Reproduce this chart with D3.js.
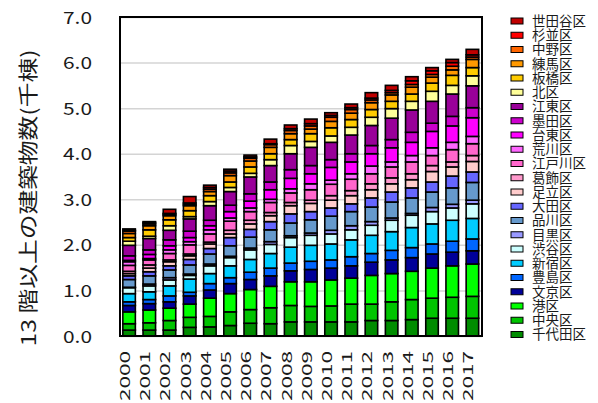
<!DOCTYPE html>
<html>
<head>
<meta charset="utf-8">
<script src="https://cdn.jsdelivr.net/npm/d3@7/dist/d3.min.js"></script>
<style>
  html, body { margin: 0; padding: 0; background: #fff; }
  svg { display: block; }
  text { font-family: "Noto Sans CJK JP", "Noto Sans", sans-serif; fill: #1a1a1a; }
</style>
</head>
<body>
<svg id="chart" width="598" height="403"></svg>
<script>
// 13階以上の建築物数（千棟）, 東京23区, 2000–2017
const years = ["2000","2001","2002","2003","2004","2005","2006","2007","2008",
               "2009","2010","2011","2012","2013","2014","2015","2016","2017"];

// stack order, bottom to top
const wards = ["千代田区","中央区","港区","文京区","豊島区","新宿区","渋谷区","目黒区",
               "品川区","大田区","足立区","葛飾区","江戸川区","荒川区","台東区","墨田区",
               "江東区","北区","板橋区","練馬区","中野区","杉並区","世田谷区"];

const wardColors = ["#008c00","#00c400","#00ff00","#000099","#0066ff","#00ccff","#ccffff","#9999ff",
                    "#6699cc","#6666ff","#ffcccc","#ff99cc","#ff66cc","#ff66ff","#ff00ff","#cc00cc",
                    "#990099","#ffff99","#ffcc00","#ff9900","#ff6600","#ff0000","#c00000"];

// buildings per ward (thousands), 2000..2017
const chiyoda  = [0.13,0.13,0.13,0.19,0.20,0.23,0.28,0.27,0.31,0.31,0.31,0.31,0.34,0.34,0.36,0.39,0.39,0.39];
const chuo     = [0.14,0.16,0.21,0.22,0.23,0.30,0.30,0.35,0.36,0.34,0.35,0.39,0.36,0.41,0.44,0.44,0.46,0.48];
const minato   = [0.26,0.28,0.27,0.29,0.40,0.40,0.44,0.47,0.52,0.54,0.57,0.57,0.63,0.62,0.62,0.66,0.69,0.71];
const bunkyo   = [0.14,0.14,0.14,0.18,0.18,0.22,0.22,0.23,0.24,0.27,0.26,0.27,0.29,0.30,0.30,0.31,0.30,0.29];
const toshima  = [0.08,0.09,0.13,0.08,0.14,0.13,0.16,0.17,0.17,0.18,0.18,0.20,0.19,0.21,0.22,0.22,0.24,0.26];
const shinjuku = [0.18,0.17,0.22,0.29,0.22,0.26,0.28,0.32,0.35,0.35,0.35,0.37,0.40,0.41,0.44,0.44,0.46,0.45];
const shibuya  = [0.13,0.13,0.13,0.08,0.17,0.18,0.21,0.20,0.21,0.22,0.22,0.22,0.22,0.25,0.27,0.27,0.27,0.32];
const meguro   = [0.01,0.04,0.05,0.03,0.04,0.03,0.04,0.06,0.04,0.05,0.08,0.09,0.08,0.05,0.04,0.09,0.08,0.08];
const shinagawa= [0.17,0.18,0.17,0.20,0.22,0.23,0.24,0.26,0.28,0.29,0.31,0.31,0.32,0.35,0.34,0.34,0.36,0.39];
const ota      = [0.08,0.09,0.09,0.12,0.12,0.18,0.17,0.18,0.20,0.18,0.18,0.17,0.20,0.22,0.22,0.22,0.26,0.23];
const adachi   = [0.05,0.08,0.09,0.08,0.10,0.08,0.12,0.13,0.18,0.18,0.17,0.18,0.18,0.18,0.18,0.23,0.20,0.23];
const katsushika=[0.05,0.07,0.04,0.04,0.04,0.08,0.08,0.07,0.07,0.07,0.10,0.11,0.13,0.13,0.13,0.13,0.11,0.13];
const edogawa  = [0.13,0.11,0.14,0.20,0.18,0.20,0.19,0.22,0.21,0.23,0.25,0.25,0.22,0.24,0.26,0.22,0.27,0.26];
const arakawa  = [0.08,0.03,0.08,0.07,0.09,0.07,0.08,0.07,0.09,0.13,0.09,0.12,0.17,0.11,0.14,0.17,0.16,0.16];
const taito    = [0.03,0.09,0.09,0.09,0.09,0.14,0.15,0.21,0.23,0.22,0.28,0.26,0.27,0.31,0.29,0.36,0.36,0.41];
const sumida   = [0.10,0.10,0.13,0.14,0.12,0.14,0.16,0.17,0.19,0.18,0.17,0.18,0.18,0.18,0.22,0.18,0.21,0.22];
const koto     = [0.23,0.25,0.21,0.27,0.32,0.30,0.37,0.36,0.35,0.40,0.38,0.41,0.44,0.47,0.49,0.48,0.49,0.48];
const kita     = [0.09,0.05,0.10,0.05,0.09,0.09,0.08,0.13,0.18,0.13,0.14,0.17,0.18,0.21,0.19,0.22,0.19,0.22];
const itabashi = [0.08,0.14,0.13,0.13,0.13,0.12,0.14,0.13,0.13,0.17,0.18,0.17,0.17,0.16,0.16,0.18,0.22,0.18];
const nerima   = [0.09,0.09,0.09,0.11,0.09,0.14,0.13,0.14,0.13,0.10,0.14,0.14,0.15,0.14,0.15,0.13,0.12,0.18];
const nakano   = [0.05,0.04,0.03,0.03,0.05,0.06,0.06,0.06,0.07,0.07,0.09,0.08,0.06,0.05,0.06,0.06,0.08,0.05];
const suginami = [0.02,0.03,0.02,0.03,0.04,0.04,0.03,0.02,0.04,0.05,0.04,0.04,0.04,0.05,0.08,0.08,0.08,0.05];
const setagaya = [0.03,0.02,0.09,0.14,0.05,0.04,0.04,0.10,0.08,0.10,0.06,0.08,0.12,0.11,0.09,0.07,0.07,0.12];

const wardSeries = [chiyoda, chuo, minato, bunkyo, toshima, shinjuku, shibuya, meguro,
                    shinagawa, ota, adachi, katsushika, edogawa, arakawa, taito, sumida,
                    koto, kita, itabashi, nerima, nakano, suginami, setagaya];

const yTicks = [0, 1, 2, 3, 4, 5, 6, 7];
const yTitle = "13 階以上の建築物数(千棟)";

// one row per year for d3.stack
const rows = years.map((y, i) => {
  const r = { year: y };
  wards.forEach((w, k) => { r[w] = wardSeries[k][i]; });
  return r;
});

const svg = d3.select("#chart");
const plot = { left: 120, right: 482, top: 17, bottom: 336 };

const x = d3.scaleBand().domain(years).range([119, 482.5]).paddingInner(0.38).paddingOuter(0.19);
const y = d3.scaleLinear().domain([0, 7]).range([plot.bottom, plot.top]);
const color = d3.scaleOrdinal().domain(wards).range(wardColors);

// grid lines
svg.append("g")
  .attr("transform", `translate(${plot.left},0)`)
  .call(d3.axisLeft(y).tickValues(yTicks).tickSize(-(plot.right - plot.left)).tickFormat(""))
  .call(g => g.select(".domain").remove())
  .call(g => g.selectAll("line").attr("stroke", "#d4d4d4").attr("stroke-width", 1.5));

// y tick labels
svg.append("g")
  .attr("transform", `translate(${plot.left},0)`)
  .call(d3.axisLeft(y).tickValues(yTicks).tickSize(0).tickPadding(28).tickFormat(d3.format(".1f")))
  .call(g => g.select(".domain").remove())
  .call(g => g.selectAll("text")
    .attr("font-size", 17)
    .attr("textLength", 29)
    .attr("lengthAdjust", "spacingAndGlyphs")
    .attr("dy", "0.36em")
    .style("font-family", "'Noto Sans CJK JP', sans-serif")
    .attr("fill", "#1a1a1a"));

// stacked bars
const stacked = d3.stack().keys(wards)(rows);
svg.append("g")
  .selectAll("g")
  .data(stacked)
  .join("g")
  .attr("fill", d => color(d.key))
  .selectAll("rect")
  .data(d => d)
  .join("rect")
  .attr("x", d => x(d.data.year))
  .attr("width", x.bandwidth())
  .attr("y", d => y(d[1]))
  .attr("height", d => y(d[0]) - y(d[1]))
  .attr("stroke", "#000")
  .attr("stroke-width", 1.6);

// plot frame
svg.append("rect")
  .attr("x", plot.left).attr("y", plot.top)
  .attr("width", plot.right - plot.left).attr("height", plot.bottom - plot.top)
  .attr("fill", "none").attr("stroke", "#000").attr("stroke-width", 2);

// x labels (rotated years)
svg.append("g")
  .selectAll("text")
  .data(years)
  .join("text")
  .attr("transform", d => `translate(${x(d) + x.bandwidth() / 2 + 1},351) rotate(-90)`)
  .attr("text-anchor", "end")
  .attr("font-size", 14)
  .attr("textLength", 50)
  .attr("lengthAdjust", "spacingAndGlyphs")
  .text(d => d);

// y axis title
svg.append("text")
  .attr("transform", "translate(36,198) rotate(-90)")
  .attr("text-anchor", "middle")
  .attr("font-size", 20)
  .attr("textLength", 297)
  .attr("lengthAdjust", "spacingAndGlyphs")
  .text(yTitle);

// legend, top entry = top of stack
const legendKeys = wards.slice().reverse();
const legend = svg.append("g")
  .selectAll("g")
  .data(legendKeys)
  .join("g")
  .attr("transform", (d, i) => `translate(511,${21 + i * 14.25})`);
legend.append("rect")
  .attr("x", 0).attr("y", -3).attr("width", 12).attr("height", 6)
  .attr("fill", d => color(d)).attr("stroke", "#000").attr("stroke-width", 1);
legend.append("text")
  .attr("x", 21).attr("dy", "0.36em")
  .attr("font-size", 13.5)
  .text(d => d);
</script>
</body>
</html>
